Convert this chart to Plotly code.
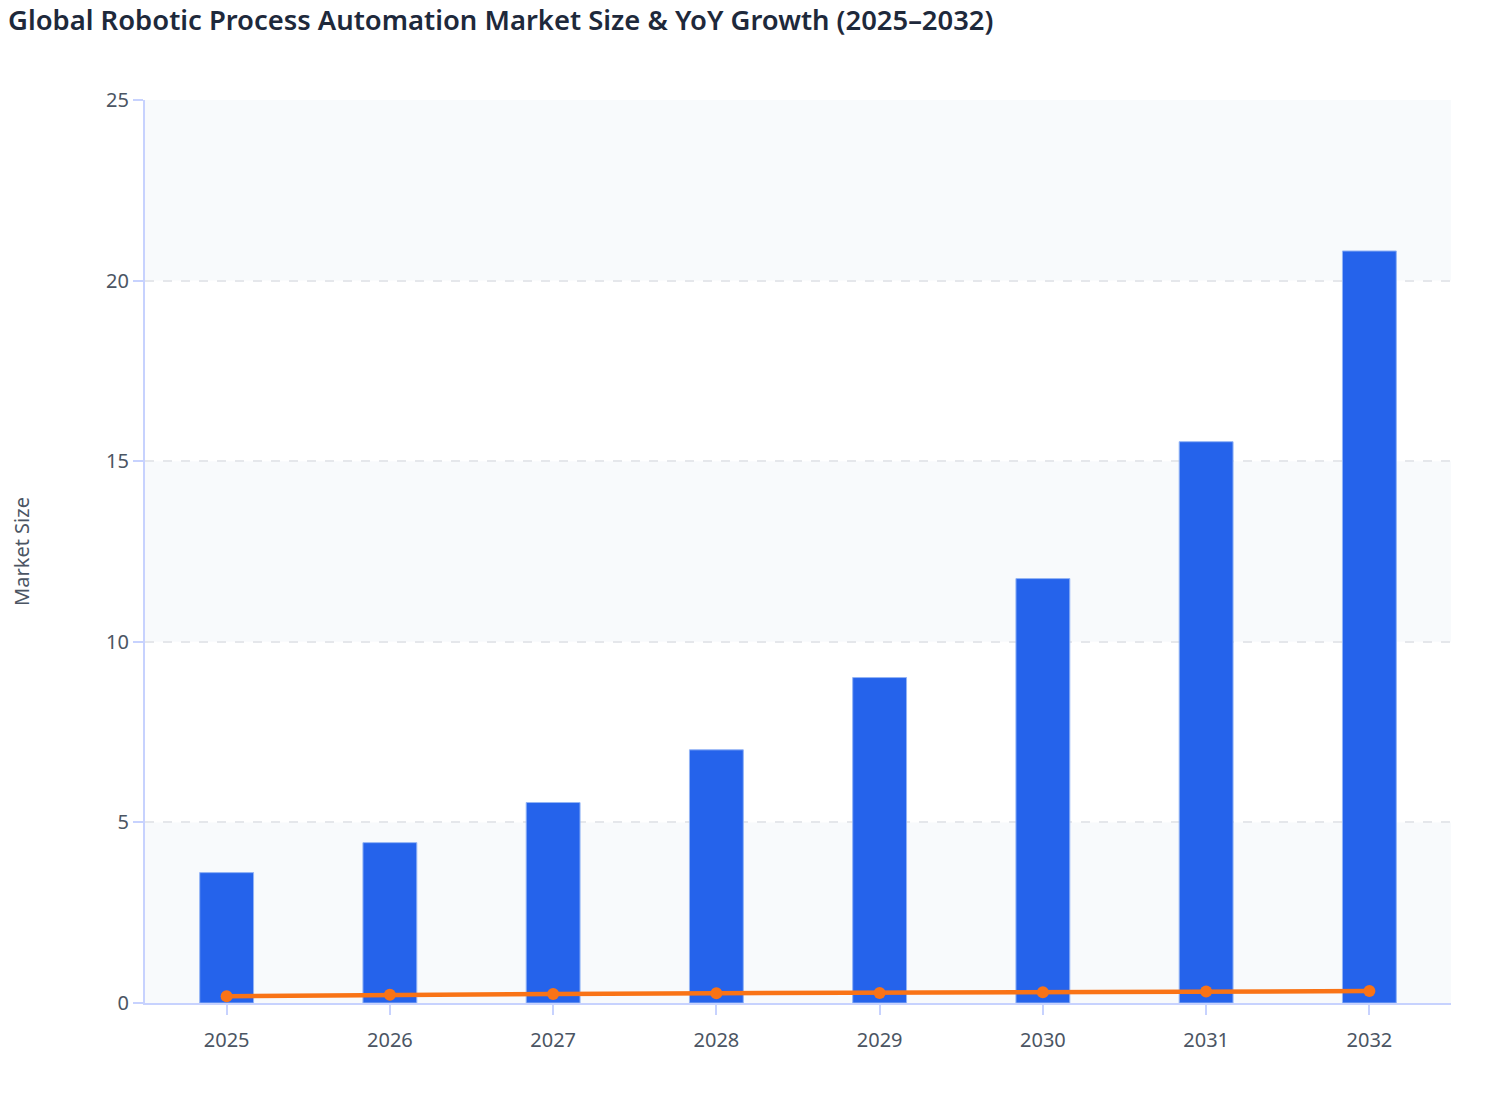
import plotly.graph_objects as go

# values
years = ['2025', '2026', '2027', '2028', '2029', '2030', '2031', '2032']
market_size = [3.61, 4.44, 5.55, 7.01, 9.01, 11.75, 15.54, 20.82]
yoy_growth = [0.19, 0.23, 0.25, 0.27, 0.28, 0.30, 0.32, 0.33]
y_ticks = [0, 5, 10, 15, 20, 25]

fig = go.Figure()

fig.add_trace(go.Bar(
    x=years, y=market_size, name='Market Size',
    width=0.33,
    marker=dict(color='#2563eb', line=dict(color='#93b4f5', width=1)),
))
fig.add_trace(go.Scatter(
    x=years, y=yoy_growth, name='YoY Growth', mode='lines+markers',
    line=dict(color='#f97316', width=4.5),
    marker=dict(color='#f97316', size=12),
))

# alternating light bands behind the grid (0-5, 10-15, 20-25)
for lo in y_ticks[:-1:2]:
    fig.add_shape(type='rect', xref='paper', yref='y', x0=0, x1=1,
                  y0=lo, y1=lo + 5, fillcolor='#f8fafc', line_width=0,
                  layer='below')

fig.update_layout(
    width=1508, height=1120,
    title=dict(text='Global Robotic Process Automation Market Size & YoY Growth (2025–2032)',
               x=0, xanchor='left', y=0.989, yanchor='middle',
               font=dict(family='Noto Sans', size=27.4, color='#1e293b', weight=600)),
    font=dict(family='Noto Sans', size=20, color='#4b5563'),
    paper_bgcolor='white', plot_bgcolor='white',
    showlegend=False,
    margin=dict(l=137, r=65, t=92, b=125),
)
fig.update_xaxes(
    type='category', showline=True, linecolor='#c7d2fe', linewidth=2,
    ticks='outside', tickcolor='#c7d2fe', ticklen=10, tickwidth=2,
    ticklabelstandoff=8,
    showgrid=False, tickfont=dict(size=20, color='#4b5563'),
)
fig.update_yaxes(
    range=[0, 25], tickvals=y_ticks, showline=True, linecolor='#c7d2fe',
    linewidth=2, ticks='outside', tickcolor='#c7d2fe', ticklen=10, tickwidth=2,
    showgrid=True, gridcolor='#e5e7eb', griddash='dash', gridwidth=1.5,
    zeroline=False, tickfont=dict(size=20, color='#4b5563'), automargin=False,
    title=dict(text='Market Size', font=dict(size=20, color='#4b5563'), standoff=77),
)

fig.write_html('out.html')
